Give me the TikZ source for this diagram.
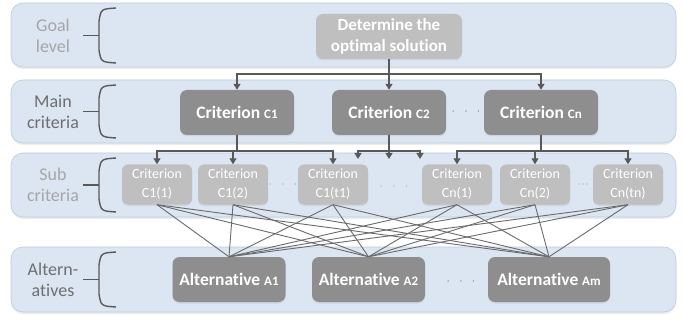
\documentclass[tikz,border=0pt]{standalone}
\usepackage{fontspec}
\setmainfont{Carlito}[Ligatures=NoCommon]
\usepackage{tikz}
\usetikzlibrary{arrows.meta,positioning,shadows}

\definecolor{bandblue}{HTML}{DCE6F2}
\definecolor{bandline}{HTML}{BCCBDD}
\definecolor{lightnode}{HTML}{BFBFBF}
\definecolor{darknode}{HTML}{8E8E8E}
\definecolor{linkgray}{HTML}{595959}
\definecolor{lightlabel}{HTML}{A6A6A6}
\definecolor{darklabel}{HTML}{6E6E6E}

\newcommand{\smallid}[1]{{\fontsize{13pt}{13pt}\selectfont #1}}

\begin{document}
\begin{tikzpicture}[
        x=1pt,
        y=-1pt,
        >={Triangle[width=7pt,length=6pt]},
        band/.style={draw=bandline, fill=bandblue, rounded corners=12pt, line width=0.6pt,
            drop shadow={shadow xshift=0pt, shadow yshift=-2pt, opacity=0.15}},
        bracket/.style={draw=linkgray, line width=1.4pt},
        lvl/.style={align=center, font=\fontsize{18pt}{21pt}\selectfont},
        nodebox/.style={
            rounded corners=7pt,
            align=center,
            text=white,
            inner sep=1pt,
            drop shadow={shadow xshift=0pt, shadow yshift=-1.5pt, opacity=0.15}
        },
        goalbox/.style={nodebox, fill=lightnode, minimum width=146pt, minimum height=45pt,
            font=\fontsize{17pt}{21pt}\selectfont\bfseries},
        mainbox/.style={nodebox, fill=darknode, minimum width=114pt, minimum height=45pt,
            font=\fontsize{17.5pt}{20pt}\selectfont\bfseries},
        subbox/.style={nodebox, fill=lightnode, minimum width=70pt, minimum height=40pt,
            rounded corners=6pt, font=\fontsize{14pt}{19pt}\selectfont},
        altbox/.style={nodebox, fill=darknode, minimum width=113pt, minimum height=45pt,
            font=\fontsize{17.5pt}{20pt}\selectfont\bfseries},
        flow/.style={->, draw=linkgray, line width=1.3pt},
        link/.style={draw=linkgray!90, line width=0.9pt},
        dotsdark/.style={text=darklabel, font=\large},
        dotslight/.style={text=lightlabel, font=\large}
    ]
        \useasboundingbox (0,0) rectangle (684,320);

        % Four horizontal levels, each with its bracket on the left.
        \draw[band] (11,3) rectangle (676,67);
        \draw[band] (11,80) rectangle (676,143);
        \draw[band] (11,153) rectangle (676,217);
        \draw[band] (11,247) rectangle (676,312);

        \foreach \ya/\yb in {8/63, 85/138, 158/212, 252/307} {
            \draw[bracket] (116,\ya) .. controls (101,\ya+1) .. (99,\ya+13) -- (99,\yb-13) .. controls (101,\yb-1) .. (116,\yb);
            \draw[bracket] (83,{(\ya+\yb)/2}) -- (99,{(\ya+\yb)/2});
        }

        \node[lvl, text=lightlabel] (goallbl) at (53,36) {Goal\\level};
        \node[lvl, text=darklabel] (mainlbl) at (53,112) {Main\\criteria};
        \node[lvl, text=lightlabel] (sublbl) at (53,185) {Sub\\criteria};
        \node[lvl, text=darklabel] (altlbl) at (53,280) {Altern-\\atives};

        \node[goalbox] (goal) at (389,36.5) {Determine the\\optimal solution};

        \node[mainbox] (c1) at (237,112.5) {Criterion \smallid{C1}};
        \node[mainbox] (c2) at (389,112.5) {Criterion \smallid{C2}};
        \node[mainbox] (cn) at (541,112.5) {Criterion \smallid{Cn}};
        \node[dotsdark] (mdots) at (466,112) {$\cdot\;\;\cdot\;\;\cdot$};

        \node[subbox] (s11) at (157,184.5) {Criterion\\C1(1)};
        \node[subbox] (s12) at (233,184.5) {Criterion\\C1(2)};
        \node[subbox] (s1t) at (333,184.5) {Criterion\\C1(t1)};
        \node[subbox] (sn1) at (457,184.5) {Criterion\\Cn(1)};
        \node[subbox] (sn2) at (535,184.5) {Criterion\\Cn(2)};
        \node[subbox] (snt) at (628,184.5) {Criterion\\Cn(tn)};
        \node[dotslight] (sdots1) at (283,185) {$\cdot\;\;\cdot\;\;\cdot$};
        \node[dotslight] (sdots2) at (394,187) {$\cdot\;\;\cdot\;\;\cdot$};
        \node[dotslight] (sdots3) at (583,185) {$\cdot\!\cdot\!\cdot$};

        \node[altbox] (a1) at (229,279.5) {Alternative \smallid{A1}};
        \node[altbox] (a2) at (368.5,279.5) {Alternative \smallid{A2}};
        \node[altbox, minimum width=122pt] (am) at (549,279.5) {Alternative \smallid{Am}};
        \node[dotsdark] (adots) at (461,282) {$\cdot\;\;\cdot\;\;\cdot$};

        % Goal to main criteria.
        \coordinate (gbus) at (389,74);
        \foreach \m in {c1,c2,cn}
            \draw[flow] (goal.south) -- (goal.south |- gbus) -| (\m.north);

        % Main criteria to sub criteria.
        \coordinate (sbus) at (0,151);
        \foreach \m/\s in {c1/s11, c1/s12, c1/s1t, cn/sn1, cn/sn2, cn/snt}
            \draw[flow] (\m.south) -- (\m.south |- sbus) -| (\s.north);
        \coordinate (mid1) at (358,159);
        \coordinate (mid2) at (389,159);
        \coordinate (mid3) at (420,159);
        \foreach \t in {mid1,mid2,mid3}
            \draw[flow] (c2.south) -- (c2.south |- sbus) -| (\t);

        % Every sub criterion linked to every alternative.
        \foreach \s in {s11,s12,s1t,sn1,sn2,snt}
            \foreach \a in {a1,a2,am}
                \draw[link] (\s.south) -- (\a.north);

    \end{tikzpicture}
\end{document}
